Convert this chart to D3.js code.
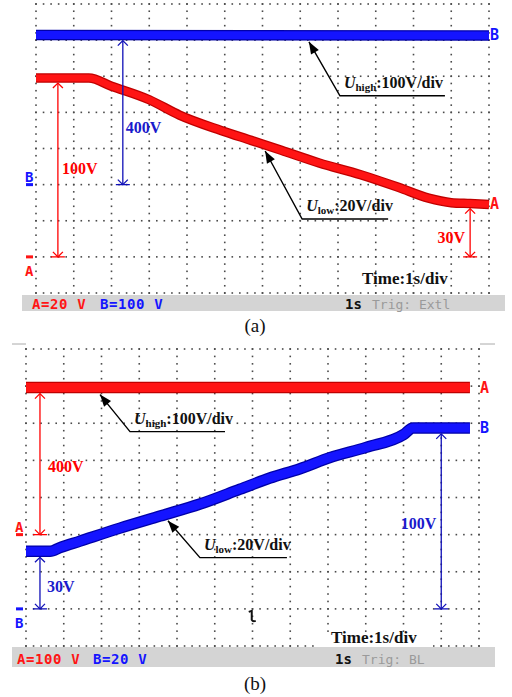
<!DOCTYPE html>
<html>
<head>
<meta charset="utf-8">
<script src="https://cdn.jsdelivr.net/npm/d3@7/dist/d3.min.js"></script>
<style>
  body { margin: 0; background: #fff; }
  svg { display: block; }
</style>
</head>
<body>
<div id="chart"></div>
<script>
// ---- data (time in s, 1 s/div; voltage in V) ----
// panel (a): A = U_low (20 V/div), B = U_high (100 V/div)
var aLowT  = [0, 1.4, 2, 3, 3.8, 4.9, 5.7, 6.5, 7.5, 8.6, 9.6, 10.4, 11, 11.5, 12];
var aLowV  = [99, 99, 94.5, 87, 78.5, 70, 64.5, 59, 52, 45.5, 38.5, 32.5, 30, 29.5, 29];
var aHighT = [0, 12];
var aHighV = [414, 413];
// panel (b): A = U_high (100 V/div), B = U_low (20 V/div)
var bHighT = [0, 11.76];
var bHighV = [396, 396];
var bLowT  = [0, 0.64, 0.9, 1.43, 2.49, 3.55, 4.61, 5.67, 6.46, 7.26, 8.05, 9.01, 10.01, 10.25, 11.76];
var bLowV  = [31, 31, 33, 36.5, 43.5, 50, 56.5, 64.5, 70.5, 75.5, 81.5, 87, 94, 97.5, 97.5];

var statusA = ["A=20 V", "B=100 V"];
var statusB = ["A=100 V", "B=20 V"];
var trigLabels = ["Trig: Extl", "Trig: BL"];
var timeLabel = "Time:1s/div";
var captions = ["(a)", "(b)"];

var RED = "#ff1414", RED_EDGE = "#c00000", RED_TXT = "#ff0000";
var BLUE = "#1414ff", BLUE_EDGE = "#0000a8", BLUE_TXT = "#1a1acc";
var SERIF = "'Liberation Serif', 'Times New Roman', serif";
var PIX = "'DejaVu Sans Mono', monospace";

var svg = d3.select("#chart").append("svg")
    .attr("width", 512)
    .attr("height", 697);

var panels = [
  {
    left: 36, top: 4, bottom: 293,
    gnd: {A: 1, B: 3}, vdiv: {A: 20, B: 100},
    traces: [
      {ch: "A", t: aLowT, v: aLowV, w: 8},
      {ch: "B", t: aHighT, v: aHighV, w: 9}
    ],
    // vertical voltage arrows: channel, time, text, label offset
    arrows: [
      {ch: "B", at: 2.3, text: "400V", dx: 3, dy: -52, anchor: "start"},
      {ch: "A", at: 0.58, text: "100V", dx: 4, dy: -83, anchor: "start"},
      {ch: "A", at: 11.5, text: "30V", dx: -5, dy: -14, anchor: "end"}
    ],
    callouts: [
      {ch: "B", at: 7.23, ex: 31, ey: 54, len: 105, sub: "high", rest: ":100V/div"},
      {ch: "A", at: 6.07, ex: 37, ey: 68, len: 86, sub: "low", rest: ":20V/div"}
    ],
    bar: {x: -14, y: 2, h: 16, base: 14, aX: -4, bX: 64},
    status: statusA, trig: trigLabels[0],
    time: {x: 326, y: -9},
    markers: {A: "dashAbove", B: "dashBelow"},
    caption: captions[0], capY: 332
  },
  {
    left: 26, top: 349, bottom: 646,
    gnd: {A: 3, B: 1}, vdiv: {A: 100, B: 20},
    traces: [
      {ch: "A", t: bHighT, v: bHighV, w: 10},
      {ch: "B", t: bLowT, v: bLowV, w: 10}
    ],
    arrows: [
      {ch: "A", at: 0.37, text: "400V", dx: 8, dy: -63, anchor: "start"},
      {ch: "B", at: 0.37, text: "30V", dx: 7, dy: -17, anchor: "start"},
      {ch: "B", at: 11.0, text: "100V", dx: -5, dy: -80, anchor: "end"}
    ],
    callouts: [
      {ch: "A", at: 1.96, ex: 30, ey: 37, len: 95, sub: "high", rest: ":100V/div"},
      {ch: "B", at: 3.76, ex: 32, ey: 37, len: 87, sub: "low", rest: ":20V/div"}
    ],
    bar: {x: -14, y: 1, h: 20, base: 17, aX: -9, bX: 67},
    status: statusB, trig: trigLabels[1],
    time: {x: 305, y: -3, bg: true},
    markers: {A: "dashBelow", B: "dashAbove"},
    caption: captions[1], capY: 690,
    edgeTicks: true
  }
];

panels.forEach(drawPanel);

function valueAt(T, V, t) {
  var i = d3.bisectRight(T, t);
  if (i <= 0) return V[0];
  if (i >= T.length) return V[V.length - 1];
  var f = (t - T[i - 1]) / (T[i] - T[i - 1]);
  return V[i - 1] + f * (V[i] - V[i - 1]);
}

function drawPanel(p) {
  var x = d3.scaleLinear().domain([0, 12]).range([p.left, p.left + 453]);
  var y = d3.scaleLinear().domain([0, 8]).range([p.bottom, p.top]);
  var yCh = function(ch, v) { return y(p.gnd[ch] + v / p.vdiv[ch]); };
  var col = {A: RED, B: BLUE}, edge = {A: RED_EDGE, B: BLUE_EDGE};
  var txtCol = {A: RED_TXT, B: BLUE_TXT}, arrCol = {A: "#ff0000", B: "#1010b8"};

  var g = svg.append("g");

  // status bar
  g.append("rect")
    .attr("x", p.left + p.bar.x).attr("y", p.bottom + p.bar.y)
    .attr("width", 483).attr("height", p.bar.h)
    .attr("fill", "#d4d4d4");

  // dotted graticule: 12 x 8 divisions, 5 dots per division
  var dots = [];
  d3.range(0, 13).forEach(function(i) {
    d3.range(0, 41).forEach(function(k) { dots.push([i, k / 5]); });
  });
  d3.range(0, 9).forEach(function(j) {
    d3.range(0, 61).forEach(function(k) { dots.push([k / 5, j]); });
  });
  g.append("g").selectAll("rect").data(dots).enter().append("rect")
    .attr("x", function(d) { return x(d[0]) - 0.8; })
    .attr("y", function(d) { return y(d[1]) - 0.8; })
    .attr("width", 1.6).attr("height", 1.6)
    .attr("fill", "#4a4a4a");

  if (p.edgeTicks) {
    g.append("line").attr("x1", p.left - 14).attr("x2", p.left)
      .attr("y1", p.top - 5).attr("y2", p.top - 5)
      .attr("stroke", "#aaa").attr("stroke-width", 1);
    g.append("line").attr("x1", p.left + 454).attr("x2", p.left + 469)
      .attr("y1", p.top - 5).attr("y2", p.top - 5)
      .attr("stroke", "#aaa").attr("stroke-width", 1);
  }

  // traces
  p.traces.forEach(function(tr) {
    var pts = tr.t.map(function(t, i) { return [t, tr.v[i]]; });
    var line = d3.line()
      .x(function(d) { return x(d[0]); })
      .y(function(d) { return yCh(tr.ch, d[1]); })
      .curve(d3.curveMonotoneX);
    g.append("path").attr("d", line(pts))
      .attr("fill", "none").attr("stroke", edge[tr.ch])
      .attr("stroke-width", tr.w + 1.5).attr("stroke-linecap", "butt");
    g.append("path").attr("d", line(pts))
      .attr("fill", "none").attr("stroke", col[tr.ch])
      .attr("stroke-width", tr.w - 1).attr("stroke-linecap", "butt");

    // channel label at right edge
    g.append("text")
      .attr("x", x(12) + 1)
      .attr("y", yCh(tr.ch, tr.v[tr.v.length - 1]) + 5)
      .attr("font-family", PIX).attr("font-weight", "bold")
      .attr("font-size", 15).attr("fill", col[tr.ch])
      .text(tr.ch);
  });

  // ground markers on the left
  ["A", "B"].forEach(function(ch) {
    var gy = yCh(ch, 0), mx = p.left - 11;
    g.append("rect").attr("x", mx + 1).attr("y", gy - 1.5)
      .attr("width", 7).attr("height", 3).attr("fill", col[ch]);
    g.append("text")
      .attr("x", mx)
      .attr("y", p.markers[ch] === "dashAbove" ? gy + 19 : gy - 3)
      .attr("font-family", PIX).attr("font-weight", "bold")
      .attr("font-size", 14).attr("fill", col[ch])
      .text(ch);
  });

  // vertical voltage arrows (trace -> ground)
  p.arrows.forEach(function(a) {
    var tr = p.traces.filter(function(d) { return d.ch === a.ch; })[0];
    var ax = x(a.at);
    var yTop = yCh(a.ch, valueAt(tr.t, tr.v, a.at)) + tr.w / 2 + 1;
    var yBot = yCh(a.ch, 0);
    var c = arrCol[a.ch];
    var ag = g.append("g").attr("stroke", c).attr("stroke-width", 1.3).attr("fill", "none");
    ag.append("line").attr("x1", ax).attr("x2", ax).attr("y1", yTop).attr("y2", yBot);
    ag.append("path").attr("d", "M" + (ax - 5) + "," + (yTop + 5) + "L" + ax + "," + yTop + "L" + (ax + 5) + "," + (yTop + 5));
    ag.append("path").attr("d", "M" + (ax - 5) + "," + (yBot - 5) + "L" + ax + "," + yBot + "L" + (ax + 5) + "," + (yBot - 5));
    ag.append("line").attr("x1", ax - 7).attr("x2", ax + 7).attr("y1", yBot).attr("y2", yBot);
    g.append("text")
      .attr("x", ax + a.dx).attr("y", yBot + a.dy)
      .attr("text-anchor", a.anchor)
      .attr("font-family", SERIF).attr("font-weight", "bold")
      .attr("font-size", 16).attr("fill", txtCol[a.ch])
      .text(a.text);
  });

  // U_high / U_low callouts
  p.callouts.forEach(function(c) {
    var tr = p.traces.filter(function(d) { return d.ch === c.ch; })[0];
    var tx = x(c.at);
    var ty = yCh(c.ch, valueAt(tr.t, tr.v, c.at)) + tr.w / 2 + 2;
    var ex = tx + c.ex, ey = ty + c.ey;
    g.append("path")
      .attr("d", "M" + (ex + c.len) + "," + ey + "L" + ex + "," + ey + "L" + tx + "," + ty)
      .attr("fill", "none").attr("stroke", "#000").attr("stroke-width", 1.4);
    var ang = Math.atan2(ty - ey, tx - ex);
    var L = 12, W = 4.5;
    var bx = tx - L * Math.cos(ang), by = ty - L * Math.sin(ang);
    var nx = -Math.sin(ang) * W, ny = Math.cos(ang) * W;
    g.append("path")
      .attr("d", "M" + tx + "," + ty + "L" + (bx + nx) + "," + (by + ny) + "L" + (bx - nx) + "," + (by - ny) + "Z")
      .attr("fill", "#000");
    var t = g.append("text")
      .attr("x", ex + 4).attr("y", ey - 8)
      .attr("font-family", SERIF).attr("font-weight", "bold")
      .attr("font-size", 16).attr("fill", "#111");
    t.append("tspan").attr("font-style", "italic").text("U");
    t.append("tspan").attr("font-size", 11).attr("dy", 3).text(c.sub);
    t.append("tspan").attr("dy", -3).text(c.rest);
  });

  // time base label
  var tl = g.append("text")
    .attr("x", p.left + p.time.x).attr("y", p.bottom + p.time.y)
    .attr("font-family", SERIF).attr("font-weight", "bold")
    .attr("font-size", 17).attr("fill", "#111")
    .text(timeLabel);
  if (p.time.bg) {
    g.insert("rect", function() { return tl.node(); })
      .attr("x", p.left + p.time.x - 14).attr("y", p.bottom - 14)
      .attr("width", 116).attr("height", 15)
      .attr("fill", "#fff");
  }

  // status bar texts
  var sy = p.bottom + p.bar.y + p.bar.base;
  g.append("text").attr("x", p.left + p.bar.aX).attr("y", sy)
    .attr("font-family", PIX).attr("font-weight", "bold").attr("font-size", 14)
    .attr("letter-spacing", 0.6).attr("fill", RED).text(p.status[0]);
  g.append("text").attr("x", p.left + p.bar.bX).attr("y", sy)
    .attr("font-family", PIX).attr("font-weight", "bold").attr("font-size", 14)
    .attr("letter-spacing", 0.6).attr("fill", BLUE).text(p.status[1]);
  g.append("text").attr("x", p.left + 309).attr("y", sy)
    .attr("font-family", PIX).attr("font-weight", "bold").attr("font-size", 14)
    .attr("fill", "#111").text("1s");
  g.append("text").attr("x", p.left + 336).attr("y", sy)
    .attr("font-family", PIX).attr("font-size", 13)
    .attr("fill", "#9a9a9a").text(p.trig);

  // caption
  svg.append("text")
    .attr("x", 255).attr("y", p.capY)
    .attr("text-anchor", "middle")
    .attr("font-family", SERIF).attr("font-size", 19).attr("fill", "#111")
    .text(p.caption);

  // small cursor glyph in panel (b)
  if (p.edgeTicks) {
    var cx = x(5.98), cy = y(1);
    g.append("path")
      .attr("d", "M" + (cx - 3) + "," + (cy + 3) + "L" + cx + "," + (cy + 2) +
                 "L" + cx + "," + (cy + 11) + "Q" + (cx + 1) + "," + (cy + 13) + " " + (cx + 4) + "," + (cy + 12))
      .attr("fill", "none").attr("stroke", "#111").attr("stroke-width", 2);
  }
}
</script>
</body>
</html>
